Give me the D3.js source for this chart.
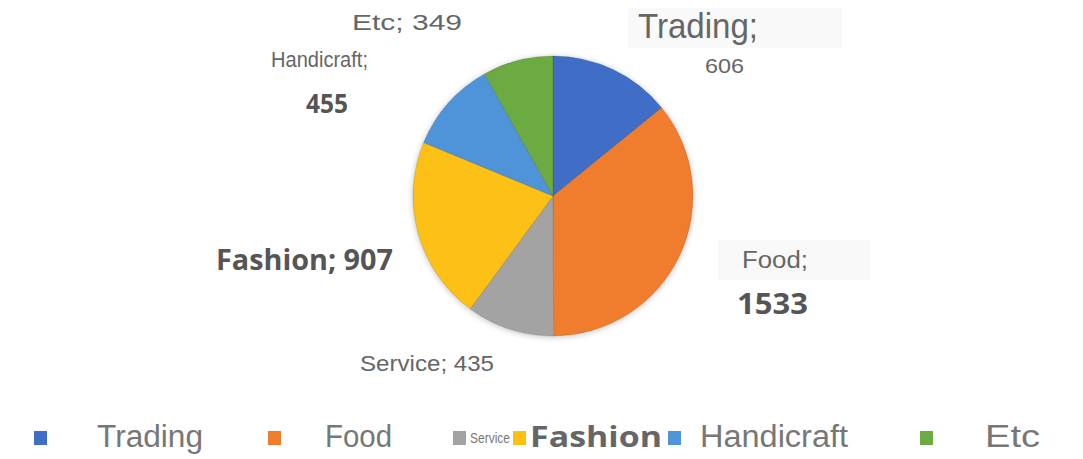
<!DOCTYPE html>
<html>
<head>
<meta charset="utf-8">
<script src="https://cdn.jsdelivr.net/npm/d3@7"></script>
<style>
    html, body { margin: 0; padding: 0; background: #fff; }
    svg { display: block; }
</style>
</head>
<body>
<svg id="chart"></svg>
<script>
'use strict';

/*
    Data
*/

const CATEGORIES = ['Trading', 'Food', 'Service', 'Fashion', 'Handicraft', 'Etc'];
const VALUES     = [606, 1533, 435, 907, 455, 349];
const COLORS     = ['#3f6ec6', '#f07c2e', '#a3a3a3', '#fcc012', '#4f93d8', '#6cab42'];

/*
    Constants
*/

const WIDTH  = 1083;
const HEIGHT = 459;

const PIE = Object.freeze({ CX : 553, CY : 196, R : 140 });

const NARROW = '"Liberation Sans Narrow", "Arial Narrow", "Liberation Sans", sans-serif';
const BOLD   = '"Open Sans", sans-serif';

// data label placement: each label is one or two lines
const LABEL_LAYOUT = [
    { lines : [ { t : d => `${d.cat};`, x : 638, y : 38, size : 35, w : 120 },
                { t : d => `${d.val}`,   x : 705, y : 73, size : 21, w : 39 } ],
      box : [628, 8, 214, 40] },
    { lines : [ { t : d => `${d.cat};`, x : 742, y : 268, size : 23, w : 66 },
                { t : d => `${d.val}`,   x : 737, y : 314, size : 28, w : 71, bold : true } ],
      box : [718, 240, 152, 40] },
    { lines : [ { t : d => `${d.cat}; ${d.val}`, x : 360, y : 371, size : 22, w : 134 } ] },
    { lines : [ { t : d => `${d.cat}; ${d.val}`, x : 216, y : 270, size : 28, w : 177, bold : true } ] },
    { lines : [ { t : d => `${d.cat};`, x : 271, y : 67, size : 22, w : 97 },
                { t : d => `${d.val}`,   x : 306, y : 113, size : 27, w : 42, bold : true } ] },
    { lines : [ { t : d => `${d.cat}; ${d.val}`, x : 352, y : 30, size : 22, w : 110 } ] }
];

// legend: swatch x, text x, font size, text width, baseline
const LEGEND_LAYOUT = [
    { sx : 34,  tx : 97,  size : 31, w : 106, y : 447 },
    { sx : 268, tx : 325, size : 31, w : 67,  y : 447 },
    { sx : 453, tx : 470, size : 14, w : 40,  y : 443 },
    { sx : 513, tx : 530, size : 29, w : 132, y : 447, bold : true },
    { sx : 668, tx : 700, size : 31, w : 148, y : 447 },
    { sx : 920, tx : 985, size : 31, w : 55,  y : 447 }
];

const DATA = CATEGORIES.map((cat, i) => ({ cat : cat, val : VALUES[i], color : COLORS[i] }));

/*
    D3 code
*/

const SVG = d3.select('#chart')
                .attr('width', WIDTH)
                .attr('height', HEIGHT);

const DEFS = SVG.append('defs');
const SHADOW = DEFS.append('filter')
                     .attr('id', 'glow')
                     .attr('x', '-20%').attr('y', '-20%')
                     .attr('width', '140%').attr('height', '140%');
SHADOW.append('feGaussianBlur').attr('in', 'SourceAlpha').attr('stdDeviation', 3).attr('result', 'b');
SHADOW.append('feOffset').attr('in', 'b').attr('dx', 0).attr('dy', 1).attr('result', 'o');
SHADOW.append('feComponentTransfer').attr('in', 'o').attr('result', 's')
      .append('feFuncA').attr('type', 'linear').attr('slope', 0.25);
const MERGE = SHADOW.append('feMerge');
MERGE.append('feMergeNode').attr('in', 's');
MERGE.append('feMergeNode').attr('in', 'SourceGraphic');

// faint label backgrounds
LABEL_LAYOUT.forEach(l => {
    if (!l.box) return;
    SVG.append('rect')
         .attr('x', l.box[0]).attr('y', l.box[1])
         .attr('width', l.box[2]).attr('height', l.box[3])
         .attr('fill', '#f9f9f9');
});

const pie = d3.pie()
                .sort(null)
                .value(d => d.val);

const arc = d3.arc()
                .innerRadius(0)
                .outerRadius(PIE.R);

SVG.append('g')
     .attr('transform', `translate(${PIE.CX},${PIE.CY})`)
     .attr('filter', 'url(#glow)')
     .selectAll('path')
     .data(pie(DATA))
     .join('path')
       .attr('d', arc)
       .attr('fill', d => d.data.color)
       .attr('stroke', 'rgba(0,0,0,0.12)')
       .attr('stroke-width', 1);

// data labels
const LABELS = SVG.append('g').attr('class', 'labels');
DATA.forEach((d, i) => {
    LABEL_LAYOUT[i].lines.forEach(line => {
        LABELS.append('text')
                .attr('x', line.x)
                .attr('y', line.y)
                .attr('font-family', line.bold ? BOLD : NARROW)
                .attr('font-weight', line.bold ? 700 : 400)
                .attr('font-size', line.size)
                .attr('fill', line.bold ? '#555' : '#666')
                .attr('textLength', line.w)
                .attr('lengthAdjust', 'spacingAndGlyphs')
                .text(line.t(d));
    });
});

// legend
const LEGEND = SVG.append('g').attr('class', 'legend');
DATA.forEach((d, i) => {
    const L = LEGEND_LAYOUT[i];
    LEGEND.append('rect')
            .attr('x', L.sx)
            .attr('y', 431)
            .attr('width', 13)
            .attr('height', 14)
            .attr('fill', d.color);
    LEGEND.append('text')
            .attr('x', L.tx)
            .attr('y', L.y)
            .attr('font-family', L.bold ? BOLD : NARROW)
            .attr('font-weight', L.bold ? 700 : 400)
            .attr('font-size', L.size)
            .attr('fill', L.bold ? '#666' : '#777')
            .attr('textLength', L.w)
            .attr('lengthAdjust', 'spacingAndGlyphs')
            .text(d.cat);
});
</script>
</body>
</html>
